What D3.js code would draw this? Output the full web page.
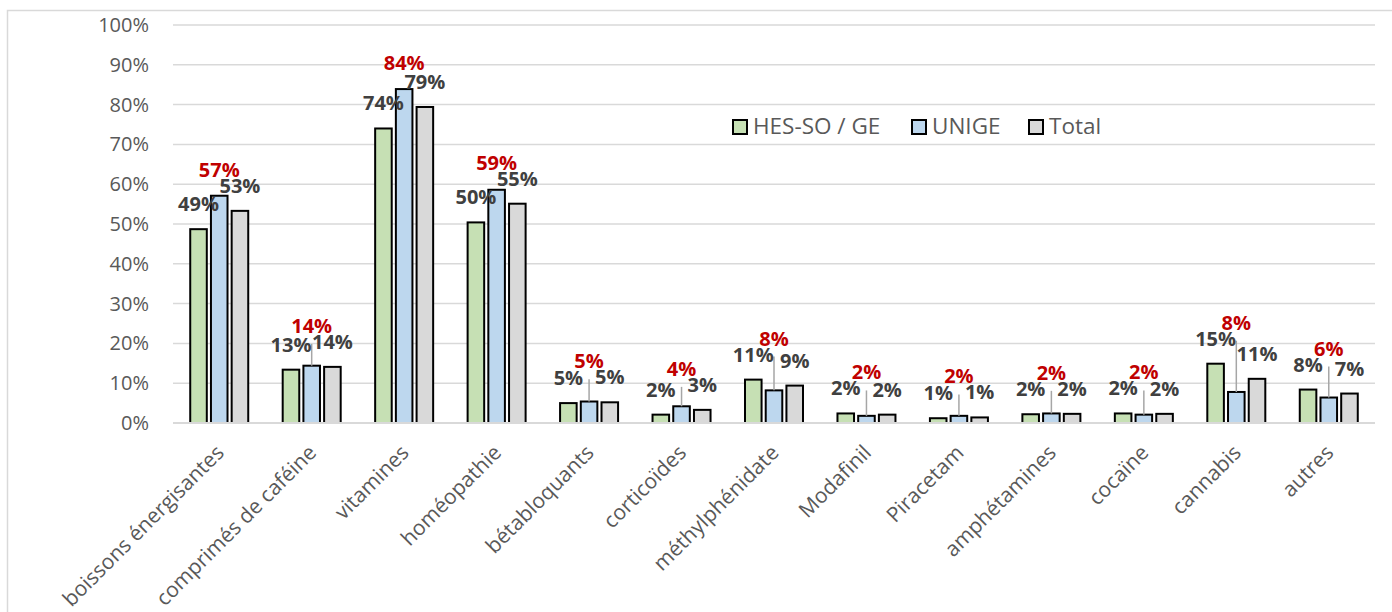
<!DOCTYPE html>
<html>
<head>
<meta charset="utf-8">
<script src="https://cdn.jsdelivr.net/npm/d3@7"></script>
<style>
    body { margin: 0; background: #fff; }
    svg { display: block; font-family: 'Open Sans', sans-serif; }
</style>
</head>
<body>
<div id="vis"></div>
<script>
var categories = ['boissons énergisantes', 'comprimés de caféine', 'vitamines', 'homéopathie',
    'bétabloquants', 'corticoïdes', 'méthylphénidate', 'Modafinil', 'Piracetam',
    'amphétamines', 'cocaïne', 'cannabis', 'autres'];
var seriesNames = ['HES-SO / GE', 'UNIGE', 'Total'];
var hesValues = [48.7, 13.4, 74.0, 50.4, 5.0, 2.1, 10.9, 2.4, 1.2, 2.2, 2.4, 14.9, 8.4];
var unigeValues = [57.1, 14.4, 83.9, 58.6, 5.4, 4.2, 8.2, 1.8, 1.8, 2.4, 2.1, 7.8, 6.4];
var totalValues = [53.3, 14.1, 79.4, 55.1, 5.2, 3.3, 9.4, 2.1, 1.4, 2.3, 2.3, 11.1, 7.4];
var yTicks = [0, 10, 20, 30, 40, 50, 60, 70, 80, 90, 100];

var allValues = [hesValues, unigeValues, totalValues];
var fills = ['#C6E0B4', '#BDD7EE', '#D9D9D9'];

var W = 1392, H = 612;
var margin = { left: 173, right: 17, top: 25, bottom: 189 };
var width = W - margin.left - margin.right;
var height = H - margin.top - margin.bottom;

var svg = d3.select('#vis').append('svg')
    .attr('width', W)
    .attr('height', H);

// chart frame (runs off right and bottom edges like the original)
svg.append('rect')
    .attr('x', 7.5).attr('y', 10.5)
    .attr('width', W + 20).attr('height', H + 20)
    .attr('fill', 'none')
    .attr('stroke', '#D9D9D9')
    .attr('stroke-width', 1.5);

var g = svg.append('g')
    .attr('transform', 'translate(' + margin.left + ',' + margin.top + ')');

var xScale = d3.scaleBand().domain(categories).range([0, width]).padding(0);
var groupW = 58;
var xInner = d3.scaleBand().domain([0, 1, 2]).range([0, groupW]).paddingInner(0.2);
var yScale = d3.scaleLinear().domain([0, 100]).range([height, 0]);

// gridlines
g.selectAll('.grid').data(yTicks).enter().append('line')
    .attr('class', 'grid')
    .attr('x1', 0).attr('x2', width)
    .attr('y1', function(d) { return yScale(d); })
    .attr('y2', function(d) { return yScale(d); })
    .attr('stroke', '#D9D9D9')
    .attr('stroke-width', 1.5);

// y axis labels
var yAxis = d3.axisLeft(yScale).tickValues(yTicks)
    .tickFormat(function(d) { return d + '%'; })
    .tickSize(0).tickPadding(24);
var ya = g.append('g').call(yAxis);
ya.select('.domain').remove();
ya.selectAll('text')
    .attr('fill', '#595959')
    .style('font-size', '20px')
    .style('font-family', "'Open Sans', sans-serif");

// bars
var bandStart = function(i) { return xScale(categories[i]) + (xScale.bandwidth() - groupW) / 2; };

allValues.forEach(function(vals, s) {
    g.selectAll('.bar' + s).data(vals).enter().append('rect')
        .attr('class', 'bar' + s)
        .attr('x', function(d, i) { return bandStart(i) + xInner(s); })
        .attr('y', function(d) { return yScale(d); })
        .attr('width', xInner.bandwidth())
        .attr('height', function(d) { return height - yScale(d); })
        .attr('fill', fills[s])
        .attr('stroke', '#000')
        .attr('stroke-width', 2);
});

// data labels
var barCenter = function(i, s) { return bandStart(i) + xInner(s) + xInner.bandwidth() / 2; };
var pct = function(v) { return Math.round(v) + '%'; };

categories.forEach(function(c, i) {
    var gy = yScale(hesValues[i]) - 18;
    var ty = yScale(totalValues[i]) - 18;
    var by = yScale(unigeValues[i]);
    var ry = Math.min(by - 19, Math.min(gy, ty) - 16);

    if (ry < by - 25) {
        g.append('line')
            .attr('x1', barCenter(i, 1)).attr('y1', ry + 11)
            .attr('x2', barCenter(i, 1)).attr('y2', by)
            .attr('stroke', '#A6A6A6')
            .attr('stroke-width', 1.5);
    }

    [[0, hesValues[i], gy, '#404040'], [2, totalValues[i], ty, '#404040'], [1, unigeValues[i], ry, '#C00000']]
        .forEach(function(l) {
            g.append('text')
                .attr('x', barCenter(i, l[0]))
                .attr('y', l[2])
                .attr('text-anchor', 'middle')
                .attr('fill', l[3])
                .style('font-size', '20px')
                .style('font-weight', 'bold')
                .text(pct(l[1]));
        });
});

// baseline
g.append('line')
    .attr('x1', 0).attr('x2', width)
    .attr('y1', height).attr('y2', height)
    .attr('stroke', '#D9D9D9')
    .attr('stroke-width', 2);

// category labels, rotated
g.selectAll('.cat').data(categories).enter().append('text')
    .attr('class', 'cat')
    .attr('transform', function(d) {
        return 'translate(' + (xScale(d) + xScale.bandwidth() / 2 + 6) + ',' + (height + 31) + ')rotate(-45)';
    })
    .attr('text-anchor', 'end')
    .attr('fill', '#595959')
    .style('font-size', '21px')
    .text(function(d) { return d; });

// legend
var legend = svg.append('g').attr('transform', 'translate(732,119)');
var legendX = [0, 179, 296];
seriesNames.forEach(function(name, s) {
    var lg = legend.append('g').attr('transform', 'translate(' + legendX[s] + ',0)');
    lg.append('rect')
        .attr('x', 1).attr('y', 1)
        .attr('width', 14).attr('height', 14)
        .attr('fill', fills[s])
        .attr('stroke', '#000')
        .attr('stroke-width', 2);
    lg.append('text')
        .attr('x', 21).attr('y', 15)
        .attr('fill', '#595959')
        .style('font-size', '22.5px')
        .text(name);
});
</script>
</body>
</html>
